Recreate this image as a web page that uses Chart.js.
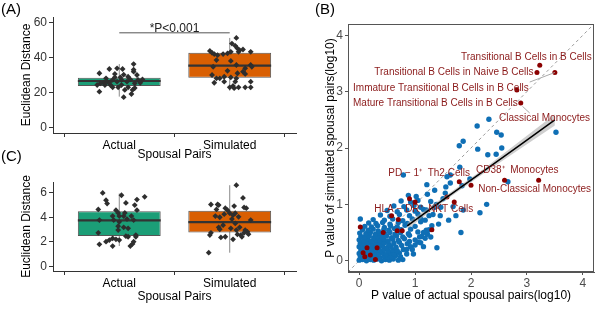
<!DOCTYPE html>
<html>
<head>
<meta charset="utf-8">
<script src="https://cdn.jsdelivr.net/npm/chart.js@4.4.0/dist/chart.umd.min.js"></script>
<style>
  body { margin: 0; background: #fff; width: 600px; height: 309px; overflow: hidden; position: relative; }
  canvas { position: absolute; }
</style>
</head>
<body>
<canvas id="chartA" width="300" height="162" style="left:0;top:0"></canvas>
<canvas id="chartC" width="300" height="164" style="left:0;top:145px"></canvas>
<canvas id="chartB" width="300" height="309" style="left:300px;top:0"></canvas>
<script>
const groups = ['Actual', 'Simulated'];
const boxColors = ['#1b9e77', '#d95f02'];

// five-number summaries: lower whisker, Q1, median, Q3, upper whisker
const boxA = [[17.7, 23.8, 26.6, 28.5, 36.2], [21.1, 28.5, 35.3, 42.6, 51.1]];
const boxC = [[1.67, 2.48, 3.74, 4.49, 5.92], [1.13, 2.77, 3.60, 4.52, 6.59]];

// jittered points: [offset from group centre, value]
const actualA = [[-0.18,31.0],[-0.09,33.4],[-0.02,33.8],[0.03,33.4],[0.13,36.2],[0.13,31.9],[0.08,29.0],[-0.18,20.5],[-0.14,25.6],[-0.11,26.2],[-0.06,27.2],[-0.04,28.7],[-0.02,26.2],[-0.01,23.0],[-0.06,23.0],[-0.13,24.3],[0.05,21.5],[0.04,17.4],[0.11,19.2],[0.14,25.3],[0.17,27.2],[0.21,27.5],[0.19,25.6],[0.02,27.2],[0.07,26.2],[0.10,27.5],[-0.08,24.3],[-0.17,25.3],[0.01,28.7],[0.16,30.0],[0.12,21.5],[0.08,23.0],[-0.12,28.1],[-0.20,24.3],[-0.04,30.6],[0.13,33.0],[0.02,24.3],[0.14,22.6],[-0.09,25.6],[0.04,30.2]];
const simulatedA = [[0.06,51.1],[0.02,47.9],[0.05,46.6],[0.07,45.1],[0.09,44.1],[0.12,44.5],[0.08,43.2],[0.01,43.2],[-0.02,42.3],[-0.06,41.9],[-0.14,41.9],[-0.18,43.7],[-0.16,42.6],[-0.11,41.3],[0.19,43.2],[-0.12,38.5],[-0.15,34.7],[-0.16,30.0],[-0.12,28.1],[-0.14,25.6],[-0.05,29.0],[-0.02,32.4],[0.06,35.7],[0.01,28.7],[0.06,28.1],[0.07,31.0],[0.12,31.9],[0.14,33.8],[0.19,35.7],[0.20,34.7],[0.14,30.6],[0.03,23.8],[0.04,22.5],[0.08,23.0],[0.14,23.0],[0.19,23.0],[0.19,26.2],[-0.05,26.2],[0.00,23.0],[-0.09,28.1],[0.05,26.2],[0.01,38.0]];
const actualC = [[-0.15,5.97],[-0.12,5.38],[-0.11,5.11],[-0.19,4.63],[-0.06,4.09],[-0.18,3.77],[-0.05,3.77],[0.02,5.78],[0.06,5.16],[0.14,4.98],[0.16,5.43],[0.23,5.65],[0.16,4.57],[-0.03,4.57],[-0.01,4.35],[0.04,4.09],[0.05,4.35],[0.00,4.09],[0.11,4.09],[0.13,3.77],[0.07,3.85],[0.00,3.63],[-0.01,3.28],[0.04,3.18],[0.08,3.10],[-0.01,2.96],[-0.19,2.74],[0.08,2.42],[0.06,2.47],[0.15,2.56],[-0.06,2.29],[-0.03,2.21],[-0.09,2.15],[-0.12,2.02],[-0.18,1.81],[-0.06,1.67],[0.00,2.15],[0.13,2.02],[0.10,1.67],[0.12,1.84],[0.15,2.42]];
const simulatedC = [[0.06,6.59],[0.12,5.56],[-0.17,5.03],[-0.11,5.03],[-0.10,4.98],[0.04,4.90],[0.13,4.79],[0.15,4.73],[-0.12,4.63],[-0.04,4.73],[-0.02,4.57],[-0.05,4.25],[0.00,4.33],[0.03,4.17],[0.05,4.33],[0.08,4.03],[0.02,3.85],[-0.09,4.00],[-0.13,4.09],[0.19,3.77],[0.05,3.50],[-0.06,3.36],[-0.10,3.18],[-0.09,3.02],[0.01,3.10],[0.06,2.96],[0.14,2.96],[0.16,2.82],[0.13,2.74],[0.10,2.56],[0.07,2.61],[0.17,2.63],[0.11,2.42],[-0.17,2.74],[-0.18,2.56],[-0.04,2.42],[-0.08,2.37],[0.03,2.21],[-0.19,1.13],[0.09,3.18]];

const ticksA = [0, 20, 40, 60];
const ticksC = [0, 2, 4, 6];
const ticksB = [0, 1, 2, 3, 4];

// panel B: [actual, simulated] p values (log10)
const bluePts = [
  [0.00,0.01],[0.06,0.02],[0.13,0.00],[0.20,0.02],[0.26,0.01],[0.33,0.03],[0.40,0.00],[0.47,0.02],[0.54,0.01],[0.61,0.03],[0.70,0.01],[0.78,0.02],
  [0.02,0.07],[0.09,0.06],[0.16,0.08],[0.23,0.06],[0.30,0.07],[0.37,0.05],[0.44,0.08],[0.51,0.06],[0.58,0.07],[0.65,0.09],[0.74,0.07],
  [0.00,0.13],[0.07,0.12],[0.14,0.14],[0.21,0.11],[0.28,0.13],[0.35,0.12],[0.42,0.14],[0.49,0.11],[0.56,0.13],[0.63,0.12],[0.72,0.14],[0.85,0.12],
  [0.03,0.19],[0.10,0.18],[0.17,0.20],[0.24,0.17],[0.31,0.19],[0.38,0.18],[0.45,0.20],[0.52,0.17],[0.60,0.19],[0.68,0.18],[0.79,0.20],
  [0.00,0.25],[0.07,0.24],[0.14,0.26],[0.21,0.23],[0.28,0.25],[0.35,0.24],[0.42,0.26],[0.50,0.23],[0.57,0.25],[0.66,0.24],[0.76,0.27],[0.92,0.25],
  [0.02,0.31],[0.09,0.30],[0.16,0.32],[0.23,0.29],[0.30,0.31],[0.38,0.30],[0.45,0.32],[0.53,0.29],[0.62,0.31],[0.72,0.33],[0.86,0.30],[1.05,0.33],
  [0.00,0.37],[0.08,0.36],[0.15,0.38],[0.22,0.35],[0.30,0.37],[0.37,0.36],[0.44,0.38],[0.52,0.35],[0.60,0.38],[0.70,0.36],[0.81,0.39],[1.00,0.37],[1.18,0.40],
  [0.03,0.43],[0.10,0.42],[0.18,0.44],[0.26,0.41],[0.33,0.43],[0.41,0.42],[0.49,0.44],[0.58,0.41],[0.67,0.44],[0.78,0.42],[0.90,0.45],[1.12,0.43],
  [0.01,0.49],[0.12,0.48],[0.20,0.50],[0.29,0.47],[0.37,0.49],[0.46,0.48],[0.55,0.50],[0.64,0.47],[0.74,0.50],[0.88,0.48],[1.05,0.51],[1.22,0.47],
  [0.06,0.55],[0.16,0.54],[0.25,0.56],[0.34,0.53],[0.44,0.55],[0.53,0.54],[0.63,0.57],[0.75,0.55],[0.92,0.56],[1.20,0.54],
  [0.10,0.61],[0.22,0.60],[0.33,0.62],[0.45,0.59],[0.56,0.62],[0.68,0.60],[0.82,0.63],[1.00,0.61],[1.30,0.62],
  [0.17,0.67],[0.30,0.66],[0.42,0.68],[0.55,0.65],[0.70,0.68],[0.86,0.66],[1.10,0.69],
  [0.02,0.74],[0.25,0.73],[0.45,0.72],[0.60,0.74],[0.78,0.71],[0.95,0.74],[1.18,0.72],
  [0.38,0.81],[0.55,0.79],[0.72,0.82],[0.90,0.80],[1.05,0.83],[1.25,0.80],
  [0.50,0.89],[0.68,0.87],[0.85,0.90],[1.00,0.88],[1.15,0.91],[1.35,0.95],
  [0.62,0.97],[0.80,0.96],[0.98,0.98],[1.10,0.95],
  [0.75,1.06],[0.92,1.04],[1.05,1.07],[1.28,1.05],
  [0.88,1.16],[1.02,1.14],[1.22,1.18],
  [0.95,0.20],[1.00,0.28],[1.10,0.32],[1.15,0.50],[1.25,0.55],[0.85,0.20],[0.97,0.12],[0.90,0.34],[1.08,0.42],
  [1.10,0.75],[1.20,0.90],[1.32,0.82],[1.38,1.00],[1.46,0.95],[1.50,1.10],[1.42,0.65],[1.28,0.42],[1.15,0.25],[1.39,0.23],
  [1.60,0.72],[1.82,0.50],[1.86,0.90],[1.73,0.80],[1.68,0.96],[1.55,1.31],[1.57,1.49],[1.63,1.38],[1.84,1.33],[1.21,1.35],
  [1.54,1.20],[0.79,1.52],[1.63,1.52],[1.80,1.66],[1.98,1.45],[2.66,1.40],[2.28,1.00],[2.16,0.85],[1.86,2.12],[1.79,2.04],
  [2.11,2.39],[2.32,2.51],[2.46,2.28],[2.54,2.23],[2.12,1.98],[2.55,2.00],[2.30,1.88],[2.45,1.89],[3.52,2.28],[1.35,1.25],[1.45,0.80]
];
const redPts = [
  [0.02,0.60],[0.43,0.50],[0.68,0.53],[0.77,0.53],[0.58,0.80],[0.70,0.73],[0.90,1.10],[1.00,1.04],[1.30,0.55],
  [0.14,0.23],[0.10,0.07],[0.32,0.23],[0.29,0.02],[0.20,0.10],[0.07,0.14],[1.57,1.13],[1.70,1.04],[1.79,1.40],
  [2.00,1.34],[2.60,1.43],[3.21,1.43],[2.89,2.80],[2.82,3.03],[3.18,3.34],[3.50,3.34],[3.23,3.47]
];
// loess-like fit and its confidence band
const fitX = [0.86, 1.5, 2.2, 2.9, 3.5];
const fitY = [0.62, 1.08, 1.57, 2.07, 2.50];
const bandLo = [0.56, 1.04, 1.53, 2.00, 2.40];
const bandHi = [0.68, 1.12, 1.61, 2.14, 2.60];

const cellNames = ['Transitional B Cells in B Cells', 'Transitional B Cells in Naive B Cells',
  'Immature Transitional B Cells in B Cells', 'Mature Transitional B Cells in B Cells',
  'Classical Monocytes', 'PD − 1⁺  Th2 Cells', 'CD38⁺  Monocytes',
  'Non-Classical Monocytes', 'HLA − DR⁺  NKT Cells'];

Chart.defaults.font.family = '"Liberation Sans", Arial, sans-serif';
Chart.defaults.font.size = 12;
Chart.defaults.animation = false;

const xy = arr => arr.map(p => ({ x: p[0], y: p[1] }));

const notes = {
  id: 'notes',
  afterDraw(chart, args, opts) {
    const { ctx, chartArea } = chart;
    const sx = chart.scales.x, sy = chart.scales.y;
    ctx.save();
    if (opts.frame) {
      ctx.strokeStyle = '#555';
      ctx.lineWidth = 1;
      ctx.strokeRect(chartArea.left + 0.5, chartArea.top + 0.5, chartArea.width - 1, chartArea.height - 1);
    }
    (opts.items || []).forEach(it => {
      ctx.font = it.font || '10px "Liberation Sans", Arial, sans-serif';
      ctx.fillStyle = it.color || '#000';
      ctx.textAlign = it.align || 'left';
      ctx.textBaseline = it.baseline || 'middle';
      const px = it.data ? sx.getPixelForValue(it.x) : it.x;
      const py = it.data ? sy.getPixelForValue(it.y) : it.y;
      ctx.fillText(it.text, px, py);
    });
    ctx.restore();
  }
};

function groupAxis(h, titlePad) {
  return {
    type: 'linear', min: 0.4, max: 2.6, offset: false,
    afterBuildTicks: s => { s.ticks = groups.map((g, i) => ({ value: i + 1 })); },
    afterFit: s => { s.height = h; },
    ticks: { callback: v => groups[v - 1], color: '#000', padding: 1, maxRotation: 0, autoSkip: false },
    grid: { drawOnChartArea: false, tickLength: 4, tickColor: '#333' },
    border: { display: true, color: '#333' },
    title: { display: true, text: 'Spousal Pairs', color: '#000', padding: { top: 0, bottom: titlePad } }
  };
}

function valueAxis(min, max, ticks) {
  return {
    type: 'linear', min: min, max: max,
    afterBuildTicks: s => { s.ticks = ticks.map(v => ({ value: v })); },
    afterFit: s => { s.width = 53; },
    ticks: { color: '#333', padding: 2 },
    grid: { drawOnChartArea: false, tickLength: 4, tickColor: '#333' },
    border: { display: true, color: '#333' },
    title: { display: true, text: 'Euclidean Distance', color: '#000', padding: { top: 19, bottom: 0 } }
  };
}

function boxDatasets(stats, jitters) {
  const ds = [];
  stats.forEach((s, i) => ds.push({
    type: 'line', data: [{ x: i + 1, y: s[0] }, { x: i + 1, y: s[4] }],
    borderColor: '#8a8a8a', borderWidth: 1, pointRadius: 0, order: 5
  }));
  ds.push({
    type: 'bar', data: stats.map((s, i) => ({ x: i + 1, y: [s[1], s[3]] })),
    backgroundColor: boxColors, borderColor: '#555', borderWidth: 1, borderSkipped: false,
    barPercentage: 0.75, categoryPercentage: 1, order: 4
  });
  stats.forEach((s, i) => ds.push({
    type: 'line', data: [{ x: i + 0.625, y: s[2] }, { x: i + 1.375, y: s[2] }],
    borderColor: '#333', borderWidth: 2.2, pointRadius: 0, order: 3
  }));
  jitters.forEach((pts, i) => ds.push({
    type: 'scatter', data: pts.map(p => ({ x: i + 1 + p[0], y: p[1] })),
    pointStyle: 'rectRot', pointRadius: 2.9, backgroundColor: '#2e2e2e', borderWidth: 0, order: 1
  }));
  return ds;
}

// (A)
const dsA = boxDatasets(boxA, [actualA, simulatedA]);
dsA.push({ type: 'line', data: [{ x: 1, y: 54 }, { x: 2, y: 54 }], borderColor: '#555', borderWidth: 1, pointRadius: 0, order: 2 });
new Chart(document.getElementById('chartA'), {
  type: 'scatter',
  data: { datasets: dsA },
  options: {
    responsive: false,
    layout: { padding: { top: 17, left: 0, right: 0, bottom: 0 } },
    scales: { x: groupAxis(29, 0), y: valueAxis(-3, 63, ticksA) },
    plugins: {
      legend: { display: false }, tooltip: { enabled: false },
      notes: { items: [
        { text: '(A)', x: 1, y: 10, font: '15px "Liberation Sans", Arial, sans-serif' },
        { text: '*P<0.001', x: 1.5, y: 54.6, data: true, align: 'center', baseline: 'alphabetic', color: '#222', font: '12px "Liberation Sans", Arial, sans-serif' }
      ] }
    }
  },
  plugins: [notes]
});

// (C)
new Chart(document.getElementById('chartC'), {
  type: 'scatter',
  data: { datasets: boxDatasets(boxC, [actualC, simulatedC]) },
  options: {
    responsive: false,
    layout: { padding: { top: 37, left: 0, right: 0, bottom: 0 } },
    scales: { x: groupAxis(38, 5), y: valueAxis(-0.35, 6.85, ticksC) },
    plugins: {
      legend: { display: false }, tooltip: { enabled: false },
      notes: { items: [{ text: '(C)', x: 1, y: 12, font: '15px "Liberation Sans", Arial, sans-serif' }] }
    }
  },
  plugins: [notes]
});

// (B)
const red = '#8b0000';
const labelRed = '#8b1a1a';
const lbl = (i, x, y) => ({ text: cellNames[i], x: x, y: y, data: true, color: labelRed });
new Chart(document.getElementById('chartB'), {
  type: 'scatter',
  data: {
    datasets: [
      { type: 'line', data: [{ x: -0.2, y: -0.2 }, { x: 4.2, y: 4.2 }], borderColor: '#9a9a9a', borderWidth: 1, borderDash: [3, 3], pointRadius: 0, order: 10 },
      { type: 'scatter', data: xy(bluePts), pointRadius: 2.7, backgroundColor: '#0f6fb5', borderWidth: 0, order: 7 },
      { type: 'scatter', data: xy(redPts), pointRadius: 2.5, backgroundColor: red, borderWidth: 0, order: 6 },
      { type: 'line', data: fitX.map((x, i) => ({ x: x, y: bandLo[i] })), borderWidth: 0, pointRadius: 0, order: 4 },
      { type: 'line', data: fitX.map((x, i) => ({ x: x, y: bandHi[i] })), borderWidth: 0, pointRadius: 0, fill: '-1', backgroundColor: 'rgba(160,160,160,0.5)', order: 4 },
      { type: 'line', data: fitX.map((x, i) => ({ x: x, y: fitY[i] })), borderColor: '#000', borderWidth: 1.5, pointRadius: 0, order: 2 },
      { type: 'line', data: [{ x: 3.05, y: 3.17 }, { x: 3.5, y: 3.34 }], borderColor: '#aaa', borderWidth: 1, pointRadius: 0, order: 3 },
      { type: 'line', data: [{ x: 2.92, y: 2.74 }, { x: 3.05, y: 2.62 }], borderColor: '#aaa', borderWidth: 1, pointRadius: 0, order: 3 }
    ]
  },
  options: {
    responsive: false,
    layout: { padding: { top: 24, left: 0, right: 6, bottom: 0 } },
    scales: {
      x: {
        type: 'linear', min: -0.2, max: 4.2,
        afterBuildTicks: s => { s.ticks = ticksB.map(v => ({ value: v })); },
        afterFit: s => { s.height = 37; },
        ticks: { color: '#4d4d4d', padding: 1 },
        grid: { drawOnChartArea: false, tickLength: 3, tickColor: '#555' },
        border: { display: true, color: '#555' },
        title: { display: true, text: 'P value of actual spousal pairs(log10)', color: '#000', padding: { top: 0, bottom: 6 } }
      },
      y: {
        type: 'linear', min: -0.2, max: 4.2,
        afterBuildTicks: s => { s.ticks = ticksB.map(v => ({ value: v })); },
        afterFit: s => { s.width = 48; },
        ticks: { color: '#4d4d4d', padding: 2 },
        grid: { drawOnChartArea: false, tickLength: 3, tickColor: '#555' },
        border: { display: true, color: '#555' },
        title: { display: true, text: 'P value of simulated spousal pairs(log10)', color: '#000', padding: { top: 23, bottom: 0 } }
      }
    },
    plugins: {
      legend: { display: false }, tooltip: { enabled: false },
      notes: { frame: true, items: [
        { text: '(B)', x: 15, y: 10, font: '15px "Liberation Sans", Arial, sans-serif' },
        lbl(0, 1.82, 3.61), lbl(1, 0.27, 3.35), lbl(2, -0.11, 3.06), lbl(3, -0.11, 2.80),
        lbl(4, 2.50, 2.53), lbl(5, 0.52, 1.56), lbl(6, 2.09, 1.61), lbl(7, 2.13, 1.26), lbl(8, 0.27, 0.92)
      ] }
    }
  },
  plugins: [notes]
});
</script>
</body>
</html>
